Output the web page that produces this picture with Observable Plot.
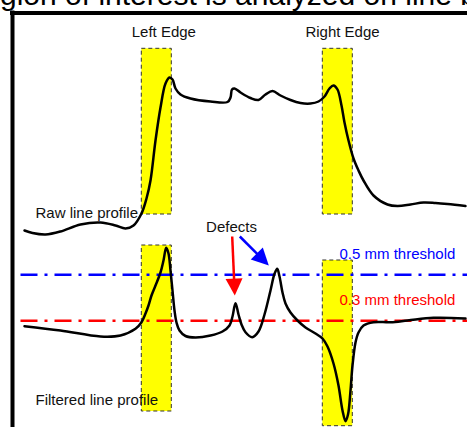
<!DOCTYPE html>
<html>
<head>
<meta charset="utf-8">
<script src="https://cdn.jsdelivr.net/npm/d3@7"></script>
<script src="https://cdn.jsdelivr.net/npm/@observablehq/plot@0.6"></script>
<style>
  html, body { margin: 0; padding: 0; background: #fff; }
  body { width: 467px; height: 427px; overflow: hidden; position: relative; font-family: Arial, "Liberation Sans", sans-serif; }
  #title { position: relative; height: 10px; overflow: visible; z-index: 0; }
  #title span { position: absolute; left: 0px; top: -20px; font-size: 30px; line-height: 30px; white-space: nowrap; color: #000; font-family: Arial, "Liberation Sans", sans-serif; }
  #chart { position: relative; z-index: 1; }
  #chart svg { display: block; background: transparent; }
</style>
</head>
<body>
<div id="title"><span>gion of interest is analyzed on line b</span></div>
<div id="chart"></div>
<script>
// position along the scan line (x) and signal level (y)
const rawX = [24, 32, 45, 60, 80, 100, 115, 125, 133, 141, 146, 150, 155, 160, 165, 169, 172, 175, 180, 190, 210, 227, 230, 231.5, 234, 240, 250, 258, 265, 272, 280, 290, 300, 310, 318, 324, 329, 333, 337, 341, 344, 348, 353, 358, 363, 373, 387, 397, 410, 423, 435, 447, 465];
const rawY = [197, 194.5, 193, 196, 203, 205, 202, 199, 202, 214, 229, 247, 287, 320, 344, 350, 348, 339, 333, 329, 326, 325.5, 330, 338, 339, 335, 329.5, 327.5, 333, 336.5, 332, 327.5, 324.5, 324, 326, 331, 339, 342, 338, 322, 305, 287, 269, 257, 247, 232, 223, 221.5, 223, 225, 224.5, 223.5, 221.5];

const filtX = [24, 60, 100, 120, 135, 141, 145, 148, 151, 155, 160, 163, 165.7, 168, 170, 172, 174, 176, 179, 185, 195, 210, 222, 229, 232, 235, 238, 241, 245, 251.7, 258, 264, 270, 274, 276.7, 279, 282, 285, 290, 297, 305, 315, 322, 327, 333, 338, 342, 345, 347.5, 350, 352, 355, 358, 363, 373, 390, 407, 433, 465];
const filtY = [101.3, 97, 91, 92, 98.7, 105.3, 114, 122, 132, 142, 155, 167, 179.7, 174, 157, 137, 117, 105, 97, 91.5, 90, 92, 96, 102, 111, 124.3, 113, 103, 95.3, 90.3, 96, 113, 137, 153.7, 158.7, 151, 135, 124, 115, 107, 100, 94, 89, 81, 64, 42, 17, 6.3, 13, 37, 62, 85, 95, 102, 105.3, 105.3, 107, 109.7, 109];

// edge regions of interest [x1, x2, y1, y2]
const roiLabels = ["Left Edge", "Right Edge", "Left Edge", "Right Edge"];
const roiX1 = [141.3, 322.3, 141.3, 322.3];
const roiX2 = [171.3, 352.3, 171.3, 352.3];
const roiY1 = [213, 213, 16, 1.3];
const roiY2 = [378.7, 378.7, 182, 167];

// thresholds
const thrNames = ["0.5 mm threshold", "0.3 mm threshold"];
const thrLevels = [152.7, 106.7];
const thrColors = ["#0000ff", "#ff0000"];
const thrLabelY = [168.5, 123];
const thrStart = 20;
const thrEnd = 467;
const thrLabelX = 339;

// defect arrows
const arrowX1 = [231.7, 239.3];
const arrowY1 = [191, 191];
const arrowX2 = [234.3, 268.3];
const arrowY2 = [132, 162];
const arrowColors = ["#ff0000", "#0000ff"];

// text labels
const labelText = ["Left Edge", "Right Edge", "Defects"];
const labelX = [163.3, 342, 231];
const labelY = [390.3, 390.3, 195.3];
const profileNames = ["Raw line profile", "Filtered line profile"];
const profileLabelX = [35, 35];
const profileLabelY = [209.5, 22.7];

// frame
const frameLeft = 12;
const frameTop = 414.5;

const raw = rawX.map((x, i) => ({x, y: rawY[i]}));
const filt = filtX.map((x, i) => ({x, y: filtY[i]}));
const rois = roiX1.map((x1, i) => ({x1, x2: roiX2[i], y1: roiY1[i], y2: roiY2[i]}));
const thr = thrLevels.map((y, i) => ({name: thrNames[i], y, color: thrColors[i], ly: thrLabelY[i]}));
const arrows = arrowX1.map((x1, i) => ({x1, y1: arrowY1[i], x2: arrowX2[i], y2: arrowY2[i], color: arrowColors[i]}));
const labels = labelText.map((t, i) => ({t, x: labelX[i], y: labelY[i]}));
const profLabels = profileNames.map((t, i) => ({t, x: profileLabelX[i], y: profileLabelY[i]}));

// arrow heads (filled triangles) and shafts derived from the arrow data
const headLen = 17, headW = 8.5;
const heads = [];
const shafts = [];
arrows.forEach((a, k) => {
  const dx = a.x2 - a.x1, dy = a.y2 - a.y1;
  const L = Math.hypot(dx, dy), ux = dx / L, uy = dy / L;
  const bx = a.x2 - ux * headLen, by = a.y2 - uy * headLen;
  const px = -uy, py = ux;
  heads.push({k, x: a.x2, y: a.y2, color: a.color});
  heads.push({k, x: bx + px * headW, y: by + py * headW, color: a.color});
  heads.push({k, x: bx - px * headW, y: by - py * headW, color: a.color});
  shafts.push({x1: a.x1, y1: a.y1, x2: bx + ux * 2, y2: by + uy * 2, color: a.color});
});

const chart = Plot.plot({
  width: 467,
  height: 417,
  margin: 0,
  x: {domain: [0, 467], axis: null},
  y: {domain: [0, 417], axis: null},
  style: {fontFamily: "Arial, 'Liberation Sans', sans-serif", background: "transparent"},
  marks: [
    Plot.rect(rois, {x1: "x1", x2: "x2", y1: "y1", y2: "y2", fill: "#ffff00", stroke: "#333", strokeWidth: 1, strokeDasharray: "4,3"}),
    Plot.link(thr, {x1: thrStart, x2: thrEnd, y1: "y", y2: "y", stroke: "color", strokeWidth: 2.5, strokeDasharray: "17,7,3,7"}),
    Plot.line(raw, {x: "x", y: "y", curve: "catmull-rom", stroke: "#000", strokeWidth: 2.5}),
    Plot.line(filt, {x: "x", y: "y", curve: "catmull-rom", stroke: "#000", strokeWidth: 2.5}),
    Plot.link(shafts, {x1: "x1", y1: "y1", x2: "x2", y2: "y2", stroke: "color", strokeWidth: 2.5}),
    Plot.line(heads, {x: "x", y: "y", z: "k", fill: "color", stroke: "none"}),
    Plot.text(labels, {x: "x", y: "y", text: "t", fontSize: 15, fill: "#111", lineAnchor: "bottom"}),
    Plot.text(profLabels, {x: "x", y: "y", text: "t", fontSize: 15, fill: "#111", lineAnchor: "bottom", textAnchor: "start"}),
    Plot.text(thr, {x: thrLabelX, y: "ly", text: "name", fill: "color", fontSize: 15, lineAnchor: "bottom", textAnchor: "start"}),
    Plot.ruleX([frameLeft], {y1: 0, y2: frameTop + 2, stroke: "#000", strokeWidth: 4}),
    Plot.ruleY([frameTop], {x1: frameLeft - 2, x2: 467, stroke: "#000", strokeWidth: 4})
  ]
});
document.getElementById("chart").appendChild(chart);
</script>
</body>
</html>
